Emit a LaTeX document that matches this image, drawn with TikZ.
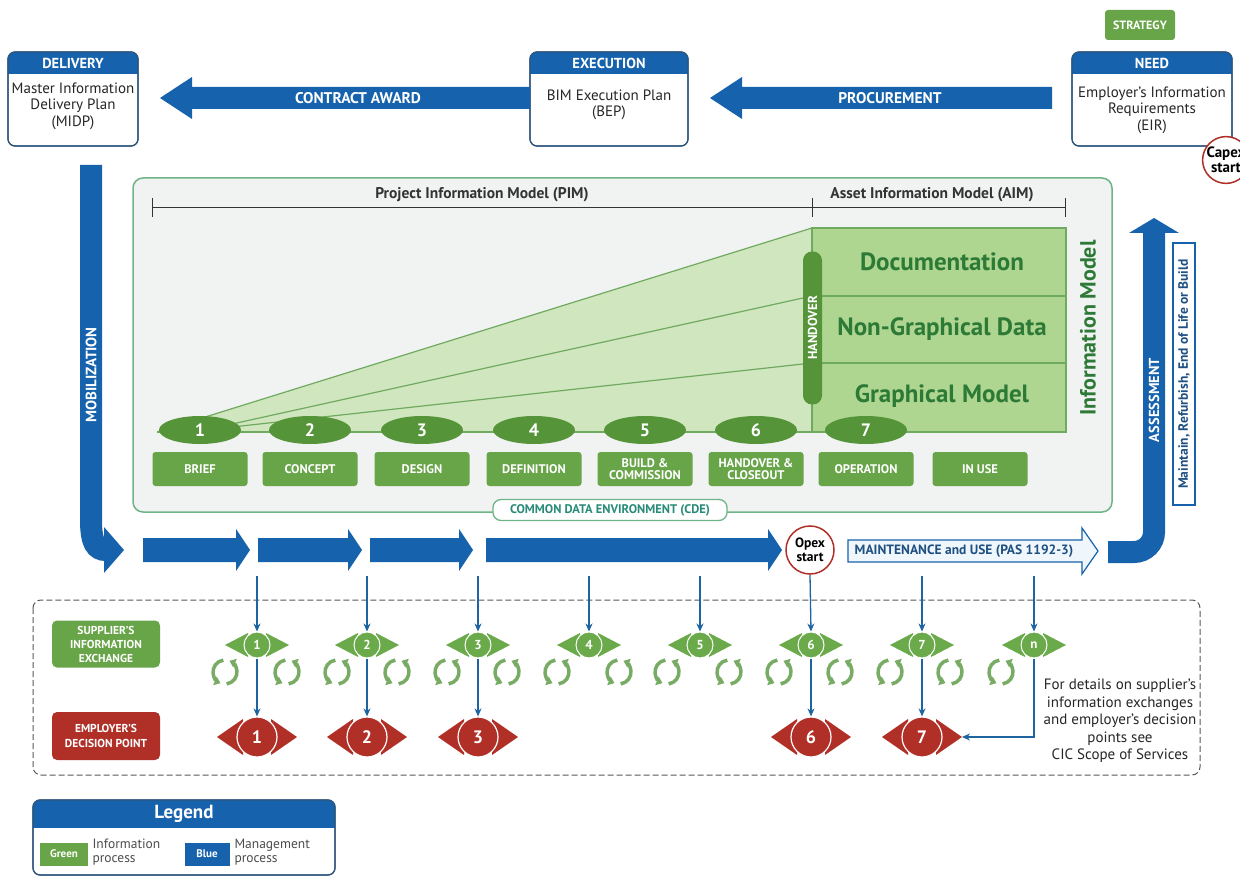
\documentclass[tikz,border=0pt]{standalone}
\usepackage{fontspec}
\setmainfont{PT Sans}
\usetikzlibrary{arrows.meta,calc,shapes.geometric}
\definecolor{blueA}{RGB}{22,98,172}
\definecolor{boxline}{RGB}{45,85,125}
\definecolor{gbox}{RGB}{104,164,72}
\definecolor{gell}{RGB}{86,148,58}
\definecolor{gwedge}{RGB}{208,230,190}
\definecolor{grect}{RGB}{174,214,144}
\definecolor{gline}{RGB}{112,170,96}
\definecolor{gtext}{RGB}{45,122,55}
\definecolor{gframe}{RGB}{110,180,135}
\definecolor{framefill}{RGB}{241,242,242}
\definecolor{redA}{RGB}{176,48,40}
\definecolor{cdetext}{RGB}{40,140,120}
\definecolor{dropc}{RGB}{30,100,160}
\definecolor{recg}{RGB}{120,172,100}
\definecolor{supg}{RGB}{106,170,74}
\definecolor{mfill}{RGB}{240,247,252}
\definecolor{darkblue}{RGB}{30,80,130}

\newcommand\rowarrow[2]{\fill[blueA] (#1,538) -- (#2-14,538) -- (#2-14,529) -- (#2,550) -- (#2-14,571) -- (#2-14,562) -- (#1,562) -- cycle;}
\newcommand\supeye[3]{%
  \fill[supg] (#2-32,645) -- (#2-9,633) -- (#2-9,657) -- cycle;
  \fill[supg] (#2+32,645) -- (#2+9,633) -- (#2+9,657) -- cycle;
  \node[circle, fill=supg, draw=white, line width=1, minimum size=26, inner sep=0, text=white, font=\fontsize{13}{14}\selectfont\bfseries] (#1) at (#2,645) {#3};}
\newcommand\empeye[3]{%
  \fill[redA] (#2-40,737) -- (#2-14,719) -- (#2-14,755) -- cycle;
  \fill[redA] (#2+40,737) -- (#2+14,719) -- (#2+14,755) -- cycle;
  \node[circle, fill=redA, draw=white, line width=1.2, minimum size=40, inner sep=0, text=white, font=\fontsize{18}{19}\selectfont\bfseries] (#1) at (#2,737) {#3};}

\begin{document}
\begin{tikzpicture}[x=1pt,y=-1pt,
  hdr/.style={font=\fontsize{14.5}{15}\selectfont\bfseries, text=white},
  body/.style={font=\fontsize{15}{16.5}\selectfont, align=center, text=black!85},
  arrtxt/.style={font=\fontsize{15.5}{16}\selectfont\bfseries, text=white},
  stagebox/.style={fill=gbox, rounded corners=3, minimum width=95, minimum height=34, text=white, font=\fontsize{12.5}{12}\selectfont\bfseries, align=center, inner sep=0},
  stageell/.style={ellipse, fill=gell, minimum width=82, minimum height=28, inner sep=0, text=white, font=\fontsize{18}{19}\selectfont\bfseries},
  drop/.style={dropc, line width=1.3, -{Stealth[length=8,width=7]}},
  recyc/.pic={
    \draw[recg, line width=3.5, -{Triangle[length=6,width=9]}] (262:12) arc (262:112:12);
    \draw[recg, line width=3.5, -{Triangle[length=6,width=9]}] (82:12) arc (82:-68:12);
  }
]
\useasboundingbox (0,0) rectangle (1240,877);
\clip (0,0) rectangle (1240,877);
\fill[white] (0,0) rectangle (1240,877);

% ---------- top boxes ----------
\foreach \xa/\xb in {8/138, 530/688, 1072/1232}{
  \draw[boxline, line width=1.2, fill=white, rounded corners=7] (\xa,52) rectangle (\xb,146);
  \begin{scope}
    \clip[rounded corners=7] (\xa,52) rectangle (\xb,146);
    \fill[blueA] (\xa,52) rectangle (\xb,74);
  \end{scope}
  \draw[boxline, line width=1.2, rounded corners=7] (\xa,52) rectangle (\xb,146);
}
\node[hdr] (delivh) at (73,63) {DELIVERY};
\node[body] (deliv) at (73,106) {Master Information\\Delivery Plan\\(MIDP)};
\node[hdr] (exech) at (609,63) {EXECUTION};
\node[body] (exec) at (609,105) {BIM Execution Plan\\(BEP)};
\node[hdr] (needh) at (1152,63) {NEED};
\node[body] (need) at (1152,110) {Employer's Information\\Requirements\\(EIR)};

\node[fill=gbox, rounded corners=3, minimum width=70, minimum height=30, text=white, font=\fontsize{12}{13}\selectfont\bfseries] (strat) at (1140,25) {STRATEGY};

\node[circle, draw=redA, line width=1.5, fill=white, minimum size=46, inner sep=0, align=center, font=\fontsize{15}{15}\selectfont\bfseries] (capex) at (1226,160) {Capex\\start};

% ---------- top arrows ----------
\fill[blueA] (530,87) -- (192,87) -- (192,77) -- (160,98) -- (192,119) -- (192,109) -- (530,109) -- cycle;
\node[arrtxt] (contract) at (358,98) {CONTRACT AWARD};
\fill[blueA] (1052,87) -- (742,87) -- (742,77) -- (710,98) -- (742,119) -- (742,109) -- (1052,109) -- cycle;
\node[arrtxt] (procure) at (890,98) {PROCUREMENT};

% ---------- CDE frame ----------
\draw[gframe, line width=1.5, fill=framefill, rounded corners=10] (133,178) rectangle (1112,512);
\draw[black!80, line width=0.8] (152,207) -- (1065,207);
\foreach \xx in {152,812,1065}{\draw[black!80, line width=0.8] (\xx,198) -- (\xx,217);}
\node[font=\fontsize{15.5}{16}\selectfont\bfseries, text=black!80] (pim) at (482,195) {Project Information Model (PIM)};
\node[font=\fontsize{15.5}{16}\selectfont\bfseries, text=black!80] (aim) at (932,195) {Asset Information Model (AIM)};

\fill[gwedge] (157,432) -- (812,228) -- (812,432) -- cycle;
\draw[gline, line width=1.2] (157,432) -- (812,228);
\draw[gline, line width=1.2] (205,430) -- (812,296);
\draw[gline, line width=1.2] (205,430) -- (812,363);
\draw[gline, line width=1.2] (157,432) -- (812,432);
\draw[gline, line width=1.2, fill=grect] (812,228) rectangle (1066,432);
\draw[gline, line width=1.2] (812,296) -- (1066,296);
\draw[gline, line width=1.2] (812,363) -- (1066,363);
\node[font=\fontsize{25}{26}\selectfont\bfseries, text=gtext] (doc) at (942,262) {Documentation};
\node[font=\fontsize{25}{26}\selectfont\bfseries, text=gtext] (ngd) at (942,329) {Non-Graphical Data};
\node[font=\fontsize{25}{26}\selectfont\bfseries, text=gtext] (gm) at (942,396) {Graphical Model};
\node[fill=gell, rounded corners=9, minimum width=153, minimum height=19, inner sep=0, rotate=90, text=white, font=\fontsize{13}{13}\selectfont\bfseries] (handover) at (812.5,328) {HANDOVER};
\node[rotate=90, font=\fontsize{22}{23}\selectfont\bfseries, text=gtext] (im) at (1088,328) {Information Model};

\foreach \xx/\nn in {200/1,310/2,422/3,534/4,645/5,756/6,866/7}{
  \node[stageell] (e\nn) at (\xx,430) {\nn};
}
\node[stagebox] (s1) at (200,469) {BRIEF};
\node[stagebox] (s2) at (310,469) {CONCEPT};
\node[stagebox] (s3) at (422,469) {DESIGN};
\node[stagebox] (s4) at (534,469) {DEFINITION};
\node[stagebox] (s5) at (645,469) {BUILD \&\\COMMISSION};
\node[stagebox] (s6) at (756,469) {HANDOVER \&\\CLOSEOUT};
\node[stagebox] (s7) at (866,469) {OPERATION};
\node[stagebox] (s8) at (980,469) {IN USE};

\node[draw=gframe, line width=1.3, fill=white, rounded corners=8, minimum width=234, minimum height=21, inner sep=1, text=cdetext, font=\fontsize{12.5}{13}\selectfont\bfseries] (cde) at (610,510) {COMMON DATA ENVIRONMENT (CDE)};

% ---------- mobilization ----------
\draw[blueA, line width=22] (91,165) -- (91,520) .. controls (91,543) and (96,550) .. (106,550);
\fill[blueA] (104,527) -- (124,550) -- (104,573) -- cycle;
\node[rotate=90, font=\fontsize{15}{16}\selectfont\bfseries, text=white] (mob) at (91,375) {MOBILIZATION};

% ---------- row arrows ----------
\rowarrow{143}{250}
\rowarrow{258}{362}
\rowarrow{370}{473}
\rowarrow{486}{782}
\node[circle, draw=redA, line width=1.5, fill=white, minimum size=48, inner sep=0, align=center, font=\fontsize{13.5}{14}\selectfont\bfseries] (opex) at (810,550) {Opex\\start};
\draw[blueA, line width=1.2, fill=mfill] (848,540) -- (1082,540) -- (1082,528) -- (1098,551) -- (1082,574) -- (1082,562) -- (848,562) -- cycle;
\node[font=\fontsize{13.5}{14}\selectfont\bfseries, text=darkblue] (maint) at (964,551) {MAINTENANCE and USE (PAS 1192-3)};

% ---------- assessment ----------
\draw[blueA, line width=22, rounded corners=20] (1108,552) -- (1154,552) -- (1154,230);
\fill[blueA] (1129,233) -- (1154,218) -- (1179,233) -- cycle;
\node[rotate=90, font=\fontsize{14.5}{15}\selectfont\bfseries, text=white] (assess) at (1154,400) {ASSESSMENT};
\node[draw=blueA, line width=1.2, fill=white, minimum width=262, minimum height=22, inner sep=0, rotate=90, text=darkblue, font=\fontsize{13.5}{14}\selectfont\bfseries] (mrb) at (1184,374) {Maintain, Refurbish, End of Life or Build};

% ---------- exchange area ----------
\draw[gray!70!black, line width=1, dash pattern=on 6pt off 3pt, rounded corners=8] (33,600) rectangle (1200,775);
\node[fill=gbox, rounded corners=5, minimum width=108, minimum height=47, inner sep=0, align=center, text=white, font=\fontsize{11.5}{14}\selectfont\bfseries] (suplab) at (106,644) {SUPPLIER'S\\INFORMATION\\EXCHANGE};
\node[fill=redA, rounded corners=5, minimum width=108, minimum height=48, inner sep=0, align=center, text=white, font=\fontsize{11.5}{15}\selectfont\bfseries] (emplab) at (106,736) {EMPLOYER'S\\DECISION POINT};

\supeye{x1}{257}{1}
\supeye{x2}{367}{2}
\supeye{x3}{478}{3}
\supeye{x4}{589}{4}
\supeye{x5}{700}{5}
\supeye{x6}{811}{6}
\supeye{x7}{922}{7}
\supeye{xn}{1034}{n}
\empeye{d1}{257}{1}
\empeye{d2}{367}{2}
\empeye{d3}{478}{3}
\empeye{d6}{811}{6}
\empeye{d7}{922}{7}

\foreach \xx in {225,287,337,397,447,507,557,619,667,729,779,840,890,950,1001}{
  \pic at (\xx,672) {recyc};
}

\foreach \nn/\xx in {1/257,2/367,3/478,4/589,5/700,7/922,n/1034}{
  \coordinate (t\nn) at (\xx,576);
  \draw[drop] (t\nn) -- (x\nn.north);
}
\draw[drop] (opex.south) -- (x6.north);
\foreach \nn in {1,2,3,6,7}{
  \draw[drop] (x\nn.south) -- (d\nn.north);
}
\coordinate (dseven) at (962,737);
\draw[drop] (xn.south) |- (dseven);

\node[align=center, font=\fontsize{15}{17.5}\selectfont, text=black!85] (cic) at (1120,721) {For details on supplier's\\information exchanges\\and employer's decision\\points see\\CIC Scope of Services};

% ---------- legend ----------
\draw[boxline, line width=1.2, fill=white, rounded corners=7] (33,800) rectangle (335,875);
\begin{scope}
  \clip[rounded corners=7] (33,800) rectangle (335,875);
  \fill[blueA] (33,800) rectangle (335,828);
\end{scope}
\draw[boxline, line width=1.2, rounded corners=7] (33,800) rectangle (335,875);
\node[font=\fontsize{19}{20}\selectfont\bfseries, text=white] (leg) at (184,814) {Legend};
\node[fill=gbox, minimum width=48, minimum height=23, inner sep=0, text=white, font=\fontsize{11}{12}\selectfont\bfseries] (lgreen) at (64,854) {Green};
\node[anchor=west, align=left, font=\fontsize{13.5}{14}\selectfont, text=black!70] (linfo) at (89,852) {Information\\process};
\node[fill=blueA, minimum width=45, minimum height=23, inner sep=0, text=white, font=\fontsize{11}{12}\selectfont\bfseries] (lblue) at (207,854) {Blue};
\node[anchor=west, align=left, font=\fontsize{13.5}{14}\selectfont, text=black!70] (lmgmt) at (231,852) {Management\\process};
\end{tikzpicture}
\end{document}
